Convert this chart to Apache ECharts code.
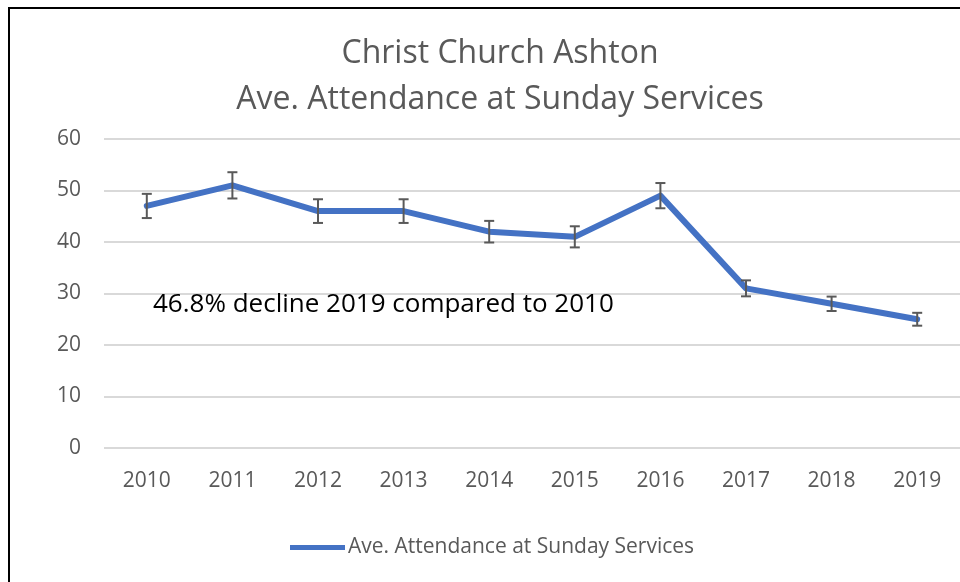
<!DOCTYPE html>
<html><head><meta charset="utf-8">
<script src="https://cdn.jsdelivr.net/npm/echarts@6/dist/echarts.min.js"></script>
<style>html,body{margin:0;padding:0;background:#fff}#c{width:960px;height:582px}</style>
</head><body><div id="c"></div>
<script>
var categories = ['2010','2011','2012','2013','2014','2015','2016','2017','2018','2019'];
var attendance = [47, 51, 46, 46, 42, 41, 49, 31, 28, 25];
var errorAmount = [2.35, 2.55, 2.3, 2.3, 2.1, 2.05, 2.45, 1.55, 1.4, 1.25];
var yTicks = [0, 10, 20, 30, 40, 50, 60];
var titleLines = ['Christ Church Ashton', 'Ave. Attendance at Sunday Services'];
var seriesName = 'Ave. Attendance at Sunday Services';
var annotation = '46.8% decline 2019 compared to 2010';

var FONT = '"Open Sans", "Noto Sans", sans-serif';
var chart = echarts.init(document.getElementById('c'), null, {renderer: 'canvas'});

var errData = categories.map(function (c, i) {
  return [i, attendance[i] - errorAmount[i], attendance[i] + errorAmount[i]];
});

chart.setOption({
  animation: false,
  backgroundColor: '#fff',
  title: {
    text: titleLines.join('\n'),
    left: 495, textAlign: 'center', top: 26,
    textStyle: {fontFamily: FONT, fontSize: 32, fontWeight: 'normal', color: '#595959', lineHeight: 46}
  },
  legend: {
    data: [{name: seriesName, icon: 'rect'}],
    left: 285, top: 532,
    itemWidth: 55, itemHeight: 5, itemGap: 3,
    textStyle: {fontFamily: FONT, fontSize: 21, color: '#595959', padding: [0, 0, 0, -2]}
  },
  grid: {left: 104, right: -8, top: 139, bottom: 134, containLabel: false},
  xAxis: {
    type: 'category', data: categories, boundaryGap: true,
    axisLine: {show: false}, axisTick: {show: false},
    axisLabel: {fontFamily: FONT, fontSize: 21, color: '#595959', margin: 23}
  },
  yAxis: {
    type: 'value', min: yTicks[0], max: yTicks[yTicks.length - 1], interval: 10,
    axisLine: {show: false}, axisTick: {show: false},
    axisLabel: {fontFamily: FONT, fontSize: 21, color: '#595959', margin: 23},
    splitLine: {lineStyle: {color: '#d9d9d9', width: 2}}
  },
  series: [
    {
      name: seriesName, type: 'line', data: attendance,
      symbol: 'none', z: 3,
      lineStyle: {color: '#4472C4', width: 6, cap: 'round', join: 'round'},
      itemStyle: {color: '#4472C4'}
    },
    {
      type: 'custom', name: 'err', data: errData, z: 4,
      renderItem: function (params, api) {
        var x = api.value(0);
        var lo = api.coord([x, api.value(1)]);
        var hi = api.coord([x, api.value(2)]);
        var hw = 5;
        var st = {stroke: '#595959', lineWidth: 2};
        return {type: 'group', children: [
          {type: 'line', shape: {x1: lo[0], y1: lo[1], x2: hi[0], y2: hi[1]}, style: st},
          {type: 'line', shape: {x1: lo[0]-hw, y1: lo[1], x2: lo[0]+hw, y2: lo[1]}, style: st},
          {type: 'line', shape: {x1: hi[0]-hw, y1: hi[1], x2: hi[0]+hw, y2: hi[1]}, style: st}
        ]};
      },
      encode: {x: 0, y: [1, 2]}
    }
  ],
  graphic: [
    {type: 'text', left: 153, top: 292, z: 10, style: {text: annotation, fontFamily: FONT, fontSize: 26, fill: '#000'}},
    {type: 'rect', shape: {x: 9, y: 8, width: 1000, height: 1000}, style: {fill: 'none', stroke: '#000', lineWidth: 2}, z: 100}
  ]
});
</script></body></html>
